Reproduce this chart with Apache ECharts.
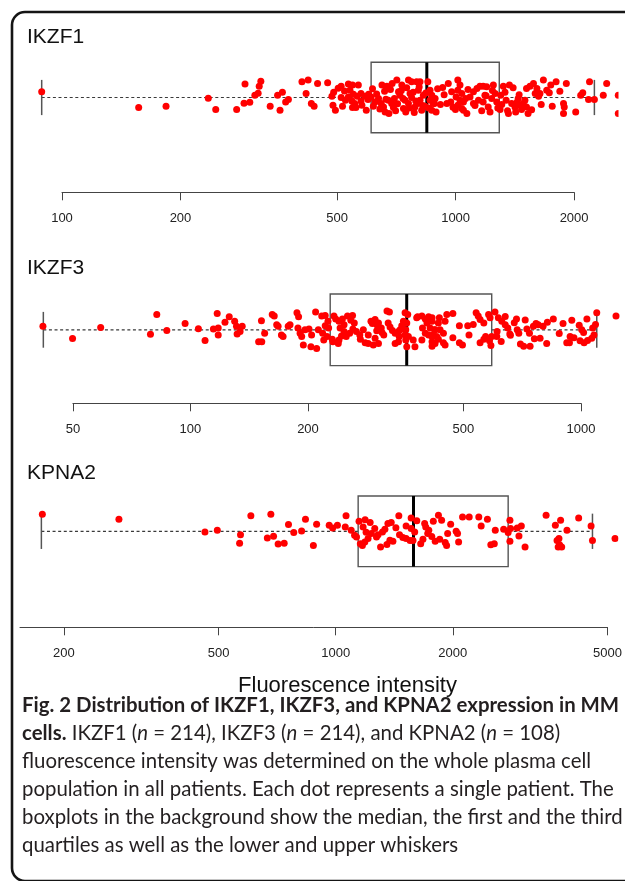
<!DOCTYPE html>
<html><head><meta charset="utf-8">
<script src="https://cdn.jsdelivr.net/npm/echarts@6.0.0/dist/echarts.min.js"></script>
<style>html,body{margin:0;padding:0;background:#fff}#c{width:625px;height:881px}</style>
</head><body><div id="c"></div>
<script>
// ---------------- data ----------------
const panelNames = ['IKZF1', 'IKZF3', 'KPNA2'];
const ikzf1Ticks = [100, 200, 500, 1000, 2000];
const ikzf3Ticks = [50, 100, 200, 500, 1000];
const kpna2Ticks = [200, 500, 1000, 2000, 5000];
// boxplot statistics: lower whisker, Q1, median, Q3, upper whisker
const ikzf1Box = [88.8, 610, 845, 1291, 2252];
const ikzf3Box = [42, 228, 358, 591, 1098];
const kpna2Box = [175, 1142, 1585, 2776, 4573];
// each dot: [fluorescence intensity, vertical jitter (box edge = 40)]
const ikzf1Points = [
[88.8,6.4],[156.6,-11.4],[183.8,-9.9],[235.3,-0.8],[245.8,-13.7],[277.8,-13.7],
[291.7,15.2],[290,-6.5],[300,-5.4],[309,2.6],[315,4.9],[317,12.9],[320,18.6],[338,-9.9],[353,2.6],[363,6.1],[358,-14.5],[370,-5],[376,-2.3],[407,17.8],[422,19.8],[417,4.6],[430,-6.9],[437,-9.9],[446,16],[473,16.7],[485,1.5],[488,-8.8],[512,12.9],[516,-9.9],[534,15.2],[547,14.1],[522,7.5],[539,8.3],[550,3.8],[512,0],[534,0.7],[545,-3.9],[554,-6.9],[547,-11.4],[558,-11.4],[575,4.6],[589,1.5],[599,-2.3],[601,3.8],
[495,-14.5],[503,10.6],[525,-3.1],[566,14.1],[578,-8.8],[562,1.5],[593,-14.5],[490,6.1],[575,-4],
[610,0.7],[624,-5],[618,-9.9],[637,-1.1],[650,14.1],[647,-6.9],[656,-10.7],[662,-16.5],[669,12.9],[675,-3.1],[677,-18.3],[688,-6.9],[695,-11.4],[699,-1.1],[709,19.8],[716,6.4],[722,2.6],[730,14.1],[737,-12.6],[744,-3.1],[747,-16.5],[759,19.8],[759,-6.9],[766,4.6],[773,17.8],[773,0],[788,-10.7],[796,17.8],[801,-6.9],[804,8.3],[812,17.8],[812,-3.1],[820,-14.5],[828,2.6],[836,-9.9],
[615,10],[630,4],[642,-13],[660,7],[665,-2],[683,9],[690,16],[704,-15],[712,-7],[728,8],[735,-1],[751,11],[763,-12],[780,6],[785,-17],[792,-4],[808,12],[825,-9],[840,5],
[850,17.8],[861,-3.1],[870,-14.5],[883,-6.9],
[861,8.3],[870,2.6],[887,-1.1],[878,-6.9],[927,11.4],[892,-16.5],[950,-6.9],[972,-5],[977,6.4],[1013,19.8],[1026,14.1],[1013,8.3],[1037,4.6],[1003,0.7],[1026,-3.1],[1047,-5],[1013,-8.8],[1037,-12.6],[1068,-18.3],[1047,-14.5],[999,-13.7],[1088,0.7],[1110,6.4],[1133,10.3],[1153,12.9],[1175,12.9],[1199,12.1],[1110,-6.9],[1143,-3.1],[1175,-5],[1210,-10.7],[1223,-16.5],[1187,2.6],[1235,-1.1],[1247,14.1],[1260,4.6],
[855,-12],[900,10],[915,-8],[935,3],[958,16],[985,-11],[1060,-1],[1075,9],[1120,-9],[1165,-15],[1195,2],[1240,8],[1280,-12],
[1272,-5],[1297,-13.7],[1302,2.6],[1322,12.9],[1370,14.1],[1344,-3.1],[1388,-6.9],[1415,-10.7],[1434,-5],[1457,-8.8],[1485,-6.9],[1442,-1.1],[1471,-13.7],[1514,-10.7],[1528,-18.3],[1362,-18.3],[1421,-16.5],[1514,10.3],[1545,12.9],[1577,16],[1609,10.3],[1593,4.6],[1625,1.5],[1638,4.6],[1671,19.8],[1704,8.3],[1730,5.3],[1745,14.1],[1800,17.8],[1911,16],[1880,-6.9],[1888,-10.7],[1880,-18.3],[2019,-16.5],[2079,2.6],[2104,5.3],[2176,-2.3],[2189,17.8],[2252,-2.3],[2372,2.6],[2420,16],[2590,2.6],[2590,-18.3],
[1310,-8],[1335,6],[1355,-15],[1400,11],[1450,3],[1500,-3],[1560,-14],[1650,-8],[1760,-10],[1840,7]
];
const ikzf3Points = [
[41.9,3.9],[49.9,-9.8],[58.9,2.7],[82.0,17.1],[87.0,-0.7],[96.9,6.9],[104.8,1.1],[114.5,0.8],[117.8,1.9],[117.1,18.3],[117.8,-5.7],[122.6,8.5],[125.7,14.5],[129.8,9.6],[131.2,3.9],[131.7,-4.6],
[134.0,-1.8],[135.7,3.9],[149.5,-13.3],[152.3,-13.3],[154.9,-3.8],[162.0,17.1],[163.9,15.3],[166.3,5.7],[167.7,3.9],[172.7,-7.5],[171.0,-5.7],[178.0,3.9],[179.9,5.7],[187.4,19.1],[189.2,14.5],
[188.5,1.9],[190.9,-3.8],[192.7,-7.5],[194.6,-17.1],[196.5,0],[201.2,0.8],[204.3,-5.7],[203.5,-19],[210.5,-20.9],[209.2,19.9],[216.9,15.3],[221.4,16],
[212.6,0],[218.1,-3.8],[221.4,4.6],[225.0,9.6],[225.9,1.9],[219.5,-11.4],[223.7,-7.5],[230.8,-10.6],[231.6,-13.3],[233.1,15.3],[235.5,12.2],
[240.1,9.6],[245.0,12.2],[247.4,5.7],[252.5,15.3],[257.5,10.7],[260.1,16],[262.8,7.7],
[241.7,1.9],[247.4,-1.8],[243.7,-6.9],[240.1,-11.4],[239.1,-15.2],[250.6,-7.5],[255.7,-3.8],[260.6,0.8],[266.1,-1.8],[271.5,-5.7],[277.2,0],
[272.4,-10.6],[280.2,-14.4],[285.4,-5.7],[285.4,-15.2],[294.0,-17.1],[297.1,-9.5],[303.1,-15.2],
[290,9.6],[292.4,6.9],[297.1,11.4],[300,5.7],[303.1,7.7],[308.1,1.9],[309.5,-3],[312.7,-5.7],[318.7,21],[323.3,19.9],
[320.9,7.7],[324.5,3.1],[329,-0.7],[334.4,-3.8],[341.1,-1.8],[344.3,0],[347.7,4.6],[351.1,9.6],[342.5,-7.5],[341.1,-13.3],[334.4,-15.2],
[354.6,19.1],[360.2,17.1],[358.1,7.7],[356,0],[354.6,-5.7],[356,-11.4],[361.5,-7.5],[358.1,-19],[375.8,-19],[372,-11.4],[379.7,13.4],[381.8,14.5],[391.5,15.3],[399.5,12.2],[407.4,14.5],[392.9,1.9],[399.5,-3.8],[407.4,-5.7],[415.7,-7.5],[422,0],[415.7,9.6],[403.4,7.7],[391.5,-11.4],[415.7,-18.3],
[415.7,13.4],[410.9,1.9],[423.1,0],[417.4,-5.7],[427.3,-7.5],[415.7,-13.3],[423.1,-15.2],[431.5,-10.6],[444.5,-14.4],[448.9,-17.1],[444.5,-3.8],[435.8,0],[431.5,7.7],[434,13.4],[453.5,17.1],[470,18.3],[448.9,9.6],
[488.4,4.6],[488.4,-14.4],[497.4,-17.1],[513,4.6],[516.9,-5.7],
[539.1,19.1],[545.7,15.3],[551.8,11.4],[564.1,7.7],[570.1,-7.5],[564.1,-10.6],[551.8,-14.4],[580.2,17.1],[585.3,13.4],[591,-7.5],[602.5,19.9],[583.3,-12.1],[588.2,-17.5],[608.9,-7.5],
[614.5,13.4],[627.2,9.6],[640,5.7],[649.7,1.9],[657.5,-4.6],[684,12.2],[686.8,0],[693.3,-3.8],[713.6,-18.3],[741.1,-18.3],[727.2,0.8],[738.3,-3.8],[755.7,3.9],[767.5,6.9],[777.6,5.7],[786.1,-9.5],[820.6,8.5],[817.4,-15.2],
[920,-14.4],[934.7,-14.4],[947.8,10.7],[938.3,-7.5],[1005,0],[1016,-3],[995,-12.1],[1019,-14.4],[1036,12.2],[1072,1.9],[1080,-5.7],[1066,-9.5],[1098,19.1],[1230,15.3],
[79,-5],[109,-12],[152,10],[300,-1],[470,-9],[530,6],[610,-2],[625,-13],[640,15],[660,-6],[675,8],[700,-16],[720,11],[760,-10],[800,4],[850,12],[880,-4],[900,7],[960,-9],[990,5],[1040,-12],[1090,6]
];
const kpna2Points = [
[176,19.4],[277,13.7],[461,-0.8],[496,1.1],[569,-3.8],[566,-13.4],[605,17.5],[681,19.4],[667,-7.7],[692,-5.7],[711,-14.5],[737,-13.4],[756,7.7],[780,-1.5],[836,13.7],[817,0.3],[876,-16],[893,8],[962,6.9],
[1010,6.9],[982,3.8],[1063,17.5],[1058,4.9],[1096,1.1],[1118,-4.6],[1148,11.4],[1176,4.9],[1131,-6.5],
[1157,-14],[1171,-16],[1188,-12.2],[1211,-8.3],
[1235,-2.6],[1260,3.1],[1273,-6.5],[1304,-17.9],[1319,-0.8],[1338,2.3],[1362,8.8],[1389,9.9],
[1403,-11.4],[1453,17.5],[1459,-3.8],[1517,6.1],[1517,-8.3],[1563,15.2],[1563,3.1],[1553,-10.3],
[1596,-0.8],[1580,-10.3],
[1676,-9.1],[1693,8.8],[1724,-2.6],[1735,1.1],[1802,-11.4],[1782,11.4],[1837,18.3],[1872,12.6],[1940,-2.6],[1912,-12.6],[1928,-16],[2040,0],[2057,-2.6],[2070,-12.2],
[2119,16.3],[2204,16.3],[2333,16.3],[2366,6.1],[2455,13.7],[2505,-15.2],[2557,-14],[2572,1.1],[2703,2.3],[2805,12.6],[2776,-1.5],[2805,-11.4],[2816,3.1],[2929,3.8],[2959,-5.4],[3001,6.1],[3068,-17.9],
[3475,18.3],[3671,6.9],[3787,12.6],[3750,-8.3],[3708,-10.3],[3932,1.1],[3764,-15.2],[3811,-17.9],[3733,-17.9],[4214,15.2],[4536,6.1],[4573,-10.3],[5227,-8.3],
[1197,-1],[1226,10],[1285,-4],[1354,-15],[1428,4],[1488,-7],[1616,12],[1654,-14],[1704,5],[1766,-6],[1851,-9],[1975,8],[1190,13],[1378,-10]
];
const axisTitle = 'Fluorescence intensity';
const captionLines = [
  '{b|Fig. 2 Distribution of IKZF1, IKZF3, and KPNA2 expression in MM}',
  '{b|cells.} IKZF1 ({i|n} = 214), IKZF3 ({i|n} = 214), and KPNA2 ({i|n} = 108)',
  'fluorescence intensity was determined on the whole plasma cell',
  'population in all patients. Each dot represents a single patient. The',
  'boxplots in the background show the median, the first and the third',
  'quartiles as well as the lower and upper whiskers'
];

// ---------------- layout ----------------
const panels = [
  {name: panelNames[0], ticks: ikzf1Ticks, stats: ikzf1Box, points: ikzf1Points, axisMin: 100, axisMax: 2000, L: 62.0, R: 574.1, axisY: 192.3, centerY: 97.5, boxHalf: 35.2, titleY: 37, clipX: 618.5},
  {name: panelNames[1], ticks: ikzf3Ticks, stats: ikzf3Box, points: ikzf3Points, axisMin: 50, axisMax: 1000, L: 72.9, R: 580.9, axisY: 403.3, centerY: 329.8, boxHalf: 35.8, titleY: 268.3, clipX: null},
  {name: panelNames[2], ticks: kpna2Ticks, stats: kpna2Box, points: kpna2Points, axisMin: 154.2, axisMax: 5000, L: 20.0, R: 610.4, axisY: 627.3, centerY: 531.3, boxHalf: 35.3, titleY: 473.3, clipX: 618.5}
];

function boxRenderer(params, api) {
  const y0 = api.value(5);
  const xs = [0, 1, 2, 3, 4].map(k => api.coord([api.value(k), y0])[0]);
  const mid = api.coord([api.value(0), y0])[1];
  const top = api.coord([api.value(1), y0 + 40])[1];
  const bot = api.coord([api.value(1), y0 - 40])[1];
  const sTop = api.coord([api.value(0), y0 + 20])[1];
  const sBot = api.coord([api.value(0), y0 - 20])[1];
  const dash = {stroke: '#3a3a3a', lineWidth: 1.2, lineDash: [3, 2.6]};
  const staple = {stroke: '#555', lineWidth: 1.5};
  return {type: 'group', children: [
    {type: 'line', shape: {x1: xs[0], y1: mid, x2: xs[1], y2: mid}, style: dash},
    {type: 'line', shape: {x1: xs[3], y1: mid, x2: xs[4], y2: mid}, style: dash},
    {type: 'line', shape: {x1: xs[0], y1: sTop, x2: xs[0], y2: sBot}, style: staple},
    {type: 'line', shape: {x1: xs[4], y1: sTop, x2: xs[4], y2: sBot}, style: staple},
    {type: 'rect', shape: {x: xs[1], y: top, width: xs[3] - xs[1], height: bot - top}, style: {fill: 'rgba(255,255,255,0)', stroke: '#555', lineWidth: 1.4}},
    {type: 'line', shape: {x1: xs[2], y1: top, x2: xs[2], y2: bot}, style: {stroke: '#000', lineWidth: 3}}
  ]};
}

const grid = [], xAxis = [], yAxis = [], series = [];
panels.forEach((p, i) => {
  const pxu = p.boxHalf / 40;
  const top = p.centerY - 60;
  grid.push({left: p.L, width: p.R - p.L, top: top, height: p.axisY - top, containLabel: false});
  xAxis.push({type: 'log', logBase: 10, gridIndex: i, min: p.axisMin, max: p.axisMax, show: false});
  const tv = p.ticks.map(v => Math.log10(v));
  xAxis.push({
    type: 'value', gridIndex: i, position: 'bottom',
    min: Math.log10(p.axisMin), max: Math.log10(p.axisMax),
    axisLine: {show: true, onZero: false, lineStyle: {color: '#444', width: 1}},
    axisTick: {show: true, length: 8, customValues: tv, lineStyle: {color: '#444', width: 1}},
    axisLabel: {show: true, customValues: tv, margin: 20, fontSize: 13, fontFamily: '"Liberation Sans", Arial, sans-serif', color: '#222',
      formatter: v => String(Math.round(Math.pow(10, v)))},
    splitLine: {show: false}
  });
  yAxis.push({type: 'value', gridIndex: i, min: -(p.axisY - p.centerY) / pxu, max: 60 / pxu, show: false});
  series.push({type: 'custom', xAxisIndex: 2 * i, yAxisIndex: i, renderItem: boxRenderer,
    dimensions: ['min', 'q1', 'median', 'q3', 'max', 'y'],
    encode: {x: [0, 1, 2, 3, 4], y: 5}, data: [[...p.stats, 0]], z: 2, silent: true, clip: false});
  series.push({type: 'scatter', xAxisIndex: 2 * i, yAxisIndex: i, data: p.points, symbol: 'circle', symbolSize: 7,
    itemStyle: {color: '#ff0000', opacity: 1, borderWidth: 0}, clip: false, silent: true, z: 3});
});

const capFont = 'Lato, "Open Sans", sans-serif';
const capSize = 20.4;
const graphic = [];
// the original figure's plot region is cut off just inside the right edge
panels.forEach(p => { if (p.clipX) graphic.push({type: 'rect', z: 50, silent: true,
  shape: {x: p.clipX, y: p.centerY - 30, width: 20, height: 60}, style: {fill: '#fff', stroke: 'none'}}); });
graphic.push({type: 'rect', shape: {x: 12, y: 12, width: 700, height: 869, r: 13}, style: {fill: 'none', stroke: '#151515', lineWidth: 2.6}, silent: true, z: 60});
panels.forEach(p => graphic.push({type: 'text', x: 27, y: p.titleY, silent: true,
  style: {text: p.name, fontSize: 21, fontFamily: '"Liberation Sans", Arial, sans-serif', fill: '#111', verticalAlign: 'middle', textVerticalAlign: 'middle'}}));
graphic.push({type: 'text', x: 347.5, y: 686, silent: true,
  style: {text: axisTitle, fontSize: 22, fontFamily: '"Liberation Sans", Arial, sans-serif', fill: '#111', align: 'center', textAlign: 'center', verticalAlign: 'middle', textVerticalAlign: 'middle'}});
const capY = [705, 733, 761, 789, 817, 845];
captionLines.forEach((t, k) => graphic.push({type: 'text', x: 22, y: capY[k], silent: true,
  style: {text: t, fontSize: capSize, fontFamily: capFont, fill: '#231f20', verticalAlign: 'middle', textVerticalAlign: 'middle',
    rich: {
      b: {fontSize: capSize, fontFamily: capFont, fontWeight: 'bold', fill: '#231f20', color: '#231f20'},
      i: {fontSize: capSize, fontFamily: capFont, fontStyle: 'italic', fill: '#231f20', color: '#231f20'}
    }}}));

const chart = echarts.init(document.getElementById('c'), null, {renderer: 'canvas'});
chart.setOption({animation: false, backgroundColor: '#fff', grid, xAxis, yAxis, series, graphic});
</script></body></html>
